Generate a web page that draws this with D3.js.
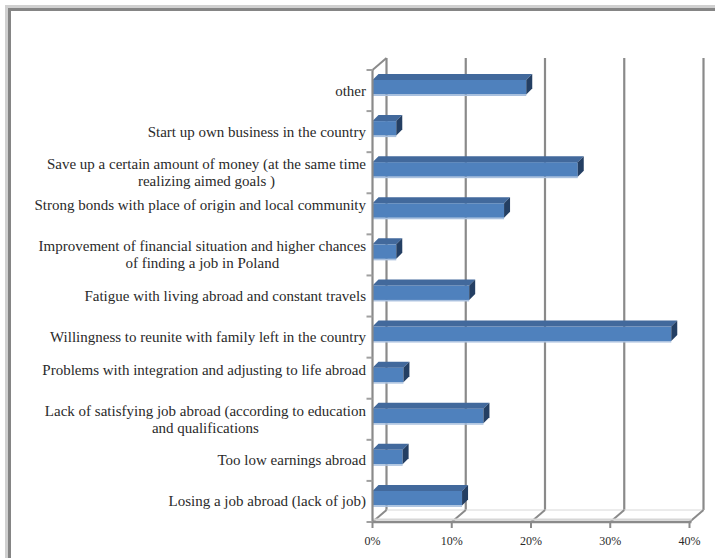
<!DOCTYPE html>
<html>
<head>
<meta charset="utf-8">
<script src="https://cdn.jsdelivr.net/npm/d3@7/dist/d3.min.js"></script>
<style>
  html, body { margin: 0; padding: 0; background: #ffffff; }
  svg { display: block; }
</style>
</head>
<body>
<svg id="chart" width="715" height="558"></svg>
<script>
// ---- data (top of chart first) ----
const categories = [
  ["other"],
  ["Start up own business in the country"],
  ["Save up a certain amount of money (at the same time", "realizing aimed goals )"],
  ["Strong bonds with place of origin and local community", ""],
  ["Improvement of financial situation and higher chances", "of finding a job in Poland"],
  ["Fatigue with living abroad and constant travels"],
  ["Willingness to reunite with family left in the country"],
  ["Problems with integration and adjusting to life abroad", ""],
  ["Lack of satisfying job abroad (according to education", "and qualifications"],
  ["Too low earnings abroad"],
  ["Losing a job abroad (lack of job)"]
];
const values = [19.4, 3.0, 25.9, 16.6, 3.0, 12.2, 37.7, 3.9, 14.0, 3.8, 11.3];
const tickValues = [0, 10, 20, 30, 40];
const tickLabels = ["0%", "10%", "20%", "30%", "40%"];

// ---- layout ----
const FONT = "'Liberation Serif', 'Times New Roman', 'DejaVu Serif', serif";
const svg = d3.select("#chart");
const depthX = 14, depthY = -12;
const barDX = 6, barDY = -6;
const x = d3.scaleLinear().domain([0, 40]).range([372.5, 689.5]);
const keys = categories.map((c, i) => "c" + i);
const y = d3.scaleBand().domain(keys).range([70, 522]).paddingInner(0).paddingOuter(0);

// outer frame
svg.append("rect").attr("x", 6.5).attr("y", 6.5).attr("width", 730).attr("height", 570)
  .attr("fill", "none").attr("stroke", "#d0d0d0").attr("stroke-width", 3);
svg.append("rect").attr("x", 9.5).attr("y", 9.5).attr("width", 730).attr("height", 570)
  .attr("fill", "none").attr("stroke", "#858585").attr("stroke-width", 3);

const g = svg.append("g");
const gridColor = "#8a8a8a";
const yTop = y.range()[0], yBot = y.range()[1];

// back wall gridlines
g.selectAll("line.grid").data(tickValues).join("line")
  .attr("class", "grid")
  .attr("x1", d => x(d) + depthX).attr("x2", d => x(d) + depthX)
  .attr("y1", yTop + depthY).attr("y2", yBot + depthY)
  .attr("stroke", gridColor).attr("stroke-width", 2.2);

// floor back edge and diagonals
g.append("line")
  .attr("x1", x(0) + depthX).attr("x2", x(40) + depthX)
  .attr("y1", yBot + depthY).attr("y2", yBot + depthY)
  .attr("stroke", "#d8d8d8").attr("stroke-width", 1);
g.selectAll("line.diag").data(tickValues).join("line")
  .attr("class", "diag")
  .attr("x1", d => x(d)).attr("y1", yBot)
  .attr("x2", d => x(d) + depthX).attr("y2", yBot + depthY)
  .attr("stroke", gridColor).attr("stroke-width", 2);

// left wall top diagonal
g.append("line")
  .attr("x1", x(0)).attr("y1", yTop)
  .attr("x2", x(0) + depthX).attr("y2", yTop + depthY)
  .attr("stroke", gridColor).attr("stroke-width", 2);

// front floor line
g.append("line")
  .attr("x1", x(0)).attr("x2", x(40) + 2)
  .attr("y1", yBot).attr("y2", yBot)
  .attr("stroke", gridColor).attr("stroke-width", 2.5);
g.append("line")
  .attr("x1", x(0)).attr("x2", x(40) + 2)
  .attr("y1", yBot - 2.5).attr("y2", yBot - 2.5)
  .attr("stroke", "#d6d6d6").attr("stroke-width", 2);

// bars
const bars = g.selectAll("g.bar").data(values).join("g").attr("class", "bar");
const bTop = (i) => y(keys[i]) + 10;
const bH = 14.5;
bars.append("rect")
  .attr("x", x(0)).attr("y", (d, i) => bTop(i))
  .attr("width", d => x(d) - x(0)).attr("height", bH)
  .attr("fill", "#4f81bd");
bars.append("rect")
  .attr("x", x(0)).attr("y", (d, i) => bTop(i) + bH)
  .attr("width", d => x(d) - x(0)).attr("height", 1.5)
  .attr("fill", "#a9c0de");
bars.append("path")
  .attr("d", (d, i) => {
    const t = bTop(i), a = x(0), b = x(d);
    return `M${a},${t}L${b},${t}L${b + barDX},${t + barDY}L${a + barDX},${t + barDY}Z`;
  })
  .attr("fill", "#42699c");
bars.append("path")
  .attr("d", (d, i) => {
    const t = bTop(i), b = x(d);
    return `M${b},${t}L${b + barDX},${t + barDY}L${b + barDX},${t + bH + barDY}L${b},${t + bH}Z`;
  })
  .attr("fill", "#243f63");

// left axis (front)
g.append("line")
  .attr("x1", x(0)).attr("x2", x(0))
  .attr("y1", yTop).attr("y2", yBot + 1)
  .attr("stroke", gridColor).attr("stroke-width", 2.2);
const bounds = keys.map(k => y(k)).concat([yBot]);
g.selectAll("line.ytick").data(bounds).join("line")
  .attr("class", "ytick")
  .attr("x1", x(0) - 6).attr("x2", x(0))
  .attr("y1", d => d).attr("y2", d => d)
  .attr("stroke", "#a0a0a0").attr("stroke-width", 2);

// bottom ticks & labels
g.selectAll("line.xtick").data(tickValues).join("line")
  .attr("class", "xtick")
  .attr("x1", d => x(d)).attr("x2", d => x(d))
  .attr("y1", yBot).attr("y2", yBot + 6)
  .attr("stroke", gridColor).attr("stroke-width", 2);
g.selectAll("text.xlab").data(tickValues).join("text")
  .attr("class", "xlab")
  .attr("x", d => x(d)).attr("y", yBot + 23)
  .attr("text-anchor", "middle")
  .attr("font-family", FONT)
  .attr("font-size", 12)
  .attr("fill", "#2a2a2a")
  .text((d, i) => tickLabels[i]);

// category labels
const lineH = 17;
const labelRight = 366;
categories.forEach((lines, i) => {
  const cy = y(keys[i]) + y.bandwidth() / 2 + 5;
  const t = g.append("text")
    .attr("font-family", FONT)
    .attr("font-size", 15)
    .attr("fill", "#2a2a2a");
  const spans = lines.map((ln, j) =>
    t.append("tspan").attr("x", 0)
      .attr("y", cy - (lines.length - 1) * lineH / 2 + j * lineH).text(ln));
  const w = d3.max(spans, s => s.node().getComputedTextLength());
  spans.forEach(s => s.attr("x", labelRight - w / 2).attr("text-anchor", "middle"));
});
</script>
</body>
</html>
